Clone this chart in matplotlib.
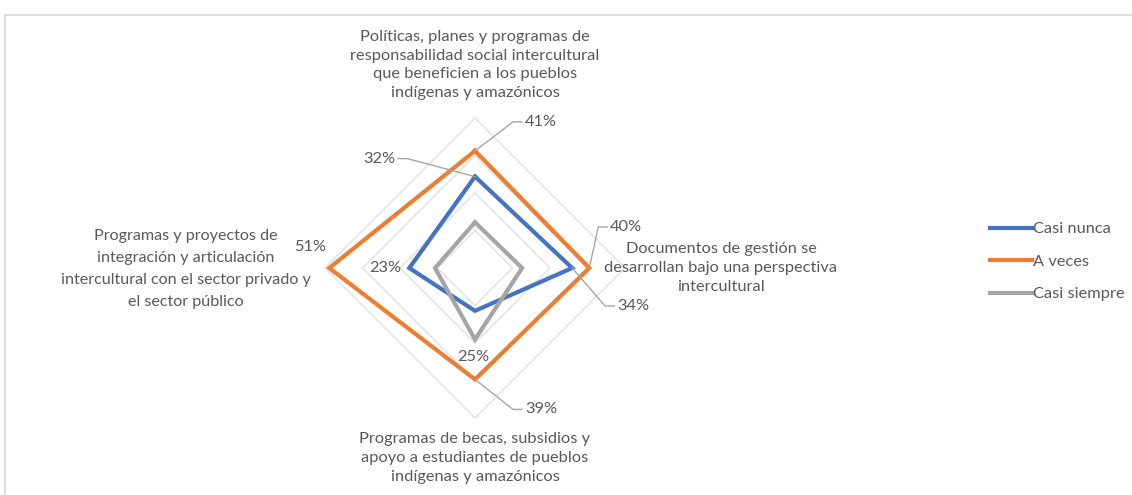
import numpy as np
import matplotlib
matplotlib.use('Agg')
import matplotlib.pyplot as plt
from matplotlib.lines import Line2D
from matplotlib.patches import Rectangle

# Datos (proporciones por dimensión)
categorias = ['Políticas, planes y programas de\nresponsabilidad social intercultural\nque beneficien a los pueblos\nindígenas y amazónicos',
              'Documentos de gestión se\ndesarrollan bajo una perspectiva\nintercultural',
              'Programas de becas, subsidios y\napoyo a estudiantes de pueblos\nindígenas y amazónicos',
              'Programas y proyectos de\nintegración y articulación\nintercultural con el sector privado y\nel sector público']
series = ['Casi nunca', 'A veces', 'Casi siempre']
casi_nunca = [0.32, 0.34, 0.15, 0.23]
a_veces = [0.41, 0.40, 0.39, 0.51]
casi_siempre = [0.16, 0.165, 0.25, 0.14]
valores = [casi_nunca, a_veces, casi_siempre]
colores = ['#4472C4', '#ED7D31', '#A5A5A5']

W, H = 1132, 495
S = 285.7            # px por unidad
cx, cy = 475, 268    # centro en px (desde arriba)
px = 1.0 / S

plt.rcParams['font.family'] = ['Lato', 'DejaVu Sans']
fig = plt.figure(figsize=(W / 100, H / 100), dpi=100)
ax = fig.add_axes([0, 0, 1, 1])
ax.set_xlim(-cx / S, (W - cx) / S)
ax.set_ylim(-(H - cy) / S, cy / S)
ax.axis('off')

# marco del gráfico
fig.patches.append(Rectangle((4.5 / W, -0.1), 1.2, (H - 14.5) / H + 0.1,
                             transform=fig.transFigure, fill=False,
                             edgecolor='#D9D9D9', lw=1.2))

ang = np.pi / 2 - np.arange(4) * np.pi / 2   # arriba, derecha, abajo, izquierda

def xy(r):
    r = np.asarray(r)
    return r * np.cos(ang), r * np.sin(ang)

# anillos de la cuadrícula
rmax = 0.525
for k in range(1, 5):
    gx, gy = xy([rmax * k / 4] * 4)
    ax.plot(np.append(gx, gx[0]), np.append(gy, gy[0]), color='#E6E6E6', lw=1.3, zorder=1)

for vals, col, nom in zip(valores, colores, series):
    x, y = xy(vals)
    ax.plot(np.append(x, x[0]), np.append(y, y[0]), color=col, lw=3.0,
            solid_joinstyle='miter', label=nom, zorder=3)

# etiquetas de categoría
txt = '#595959'
fs = 11.8
ax.text(0, (cy - 65) * px, categorias[0], ha='center', va='center', fontsize=fs,
        color=txt, linespacing=1.45)
ax.text((721 - cx) * px, 0, categorias[1], ha='center', va='center', fontsize=fs,
        color=txt, linespacing=1.45)
ax.text(0, -(458 - cy) * px, categorias[2], ha='center', va='center', fontsize=fs,
        color=txt, linespacing=1.45)
# la de la izquierda, línea por línea (la etiqueta 51% queda a su lado)
for i, linea in enumerate(categorias[3].split('\n')):
    ax.text((186 - cx) * px, -(236 + 22 * i - cy) * px, linea, ha='center',
            va='center', fontsize=11.6, color=txt)

# etiquetas de datos: (serie, categoría, dx px, dy px, alineación, guía)
etiquetas = [(1, 0, 50, 29, 'left', True),
             (0, 0, -80, 18, 'right', True),
             (1, 1, 21, 41, 'left', True),
             (0, 1, 45, -38, 'left', True),
             (1, 3, -3, 21, 'right', False),
             (0, 3, -8, 0, 'right', False),
             (2, 2, -2, -18, 'center', False),
             (1, 2, 50, -30, 'left', True)]
for si, ci, dx, dy, ha, guia in etiquetas:
    v = valores[si][ci]
    vx, vy = v * np.cos(ang[ci]), v * np.sin(ang[ci])
    tx, ty = vx + dx * px, vy + dy * px
    ax.text(tx, ty, f'{v:.0%}', ha=ha, va='center', fontsize=fs, color=txt, zorder=5)
    if guia:
        s = 1 if ha == 'left' else -1
        lx = [vx, tx - s * 12 * px, tx - s * 3 * px]
        ly = [vy, ty, ty]
        ax.plot(lx, ly, color='#A6A6A6', lw=1.0, zorder=4)

handles = [Line2D([], [], color=c, lw=3.0) for c in colores]
fig.legend(handles, series, loc='upper left', bbox_to_anchor=(990 / W, 1 - 222 / H),
           frameon=False, fontsize=fs, handlelength=2.55, handletextpad=0.1,
           labelspacing=1.1, labelcolor=txt, borderaxespad=0, borderpad=0)

fig.savefig('out.png', dpi=100, facecolor='white')
